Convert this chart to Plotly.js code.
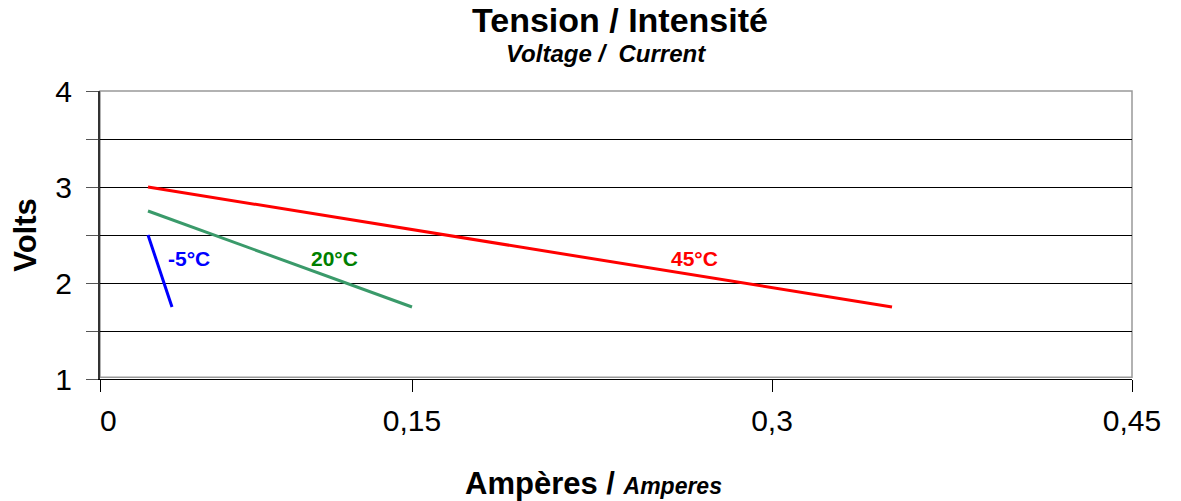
<!DOCTYPE html>
<html><head><meta charset="utf-8">
<script src="https://cdn.plot.ly/plotly-3.0.1.min.js"></script>
<style>body{margin:0;background:#fff}#c{width:1181px;height:501px}</style>
</head><body><div id="c"></div>
<script>
const seriesNames = ["-5°C", "20°C", "45°C"];
const xMinus5 = [0.04, 0.05];
const yMinus5 = [2.5, 1.75];
const x20 = [0.04, 0.15];
const y20 = [2.75, 1.75];
const x45 = [0.04, 0.35];
const y45 = [3.0, 1.75];
const xTickVals = [0.02, 0.15, 0.3, 0.45];
const xTickText = ["\u00a0\u00a00", "0,15", "0,3", "0,45"];
const yTickVals = [1, 1.5, 2, 2.5, 3, 3.5, 4];
const yTickText = ["1", "", "2", "", "3", "", "4"];
const labelPos = [[0.0571, 2.26], [0.1179, 2.26], [0.2679, 2.26]];

const colors = ["#0000FF", "#3A9A6A", "#FF0000"];
const labelColors = ["#0000FF", "#008000", "#FF0000"];
const font = "Liberation Sans, Arial, sans-serif";

const xs = [xMinus5, x20, x45], ys = [yMinus5, y20, y45];
const traces = xs.map((x, i) => ({
  x: x, y: ys[i], type: "scatter", mode: "lines", name: seriesNames[i],
  line: {color: colors[i], width: 3}, hoverinfo: "skip"
}));

const annotations = seriesNames.map((n, i) => ({
  x: labelPos[i][0], y: labelPos[i][1], xref: "x", yref: "y",
  text: "<b>" + n + "</b>", showarrow: false, yanchor: "middle", xanchor: "center",
  font: {family: font, size: 21, color: labelColors[i]}
}));
annotations.push({
  xref: "paper", yref: "paper", x: 0.504, y: 1, yshift: 71, yanchor: "middle", showarrow: false,
  text: "<b>Tension / Intensité</b>", font: {family: font, size: 34, color: "#000"}
});
annotations.push({
  xref: "paper", yref: "paper", x: 0.490, y: 1, yshift: 38, yanchor: "middle", showarrow: false,
  text: "<b><i>Voltage /  Current</i></b>", font: {family: font, size: 24, color: "#000"}
});
annotations.push({
  xref: "paper", yref: "paper", x: 0.478, y: 0, yshift: -104, yanchor: "middle", showarrow: false,
  text: "<b>Ampères / <i><span style='font-size:23px'>Amperes</span></i></b>",
  font: {family: font, size: 31, color: "#000"}
});

const layout = {
  width: 1181, height: 501,
  margin: {l: 100, r: 49, t: 91, b: 122},
  paper_bgcolor: "#fff", plot_bgcolor: "#fff",
  showlegend: false,
  xaxis: {
    range: [0.02, 0.45], tickvals: xTickVals, ticktext: xTickText,
    showgrid: false, zeroline: false,
    showline: true, linecolor: "#000", linewidth: 1,
    ticks: "outside", ticklen: 12, tickcolor: "#000", tickwidth: 1,
    tickfont: {family: font, size: 30, color: "#000"}, ticklabelstandoff: 3
  },
  yaxis: {
    range: [1, 4], tickvals: yTickVals, ticktext: yTickText,
    showgrid: true, gridcolor: "#000", gridwidth: 1, zeroline: false,
    showline: true, linecolor: "#333", linewidth: 2,
    ticks: "outside", ticklen: 12, tickcolor: "#555", tickwidth: 1,
    tickfont: {family: font, size: 30, color: "#000"}, ticklabelstandoff: 8,
    title: {text: "<b>Volts</b>", font: {family: font, size: 31, color: "#000"}, standoff: 9}
  },
  shapes: [{
    type: "rect", xref: "paper", yref: "paper", x0: 0, x1: 1, y0: 0.006, y1: 1,
    line: {color: "#999", width: 1.5}, layer: "below"
  }],
  annotations: annotations
};
Plotly.newPlot("c", traces, layout, {staticPlot: true});
</script></body></html>
